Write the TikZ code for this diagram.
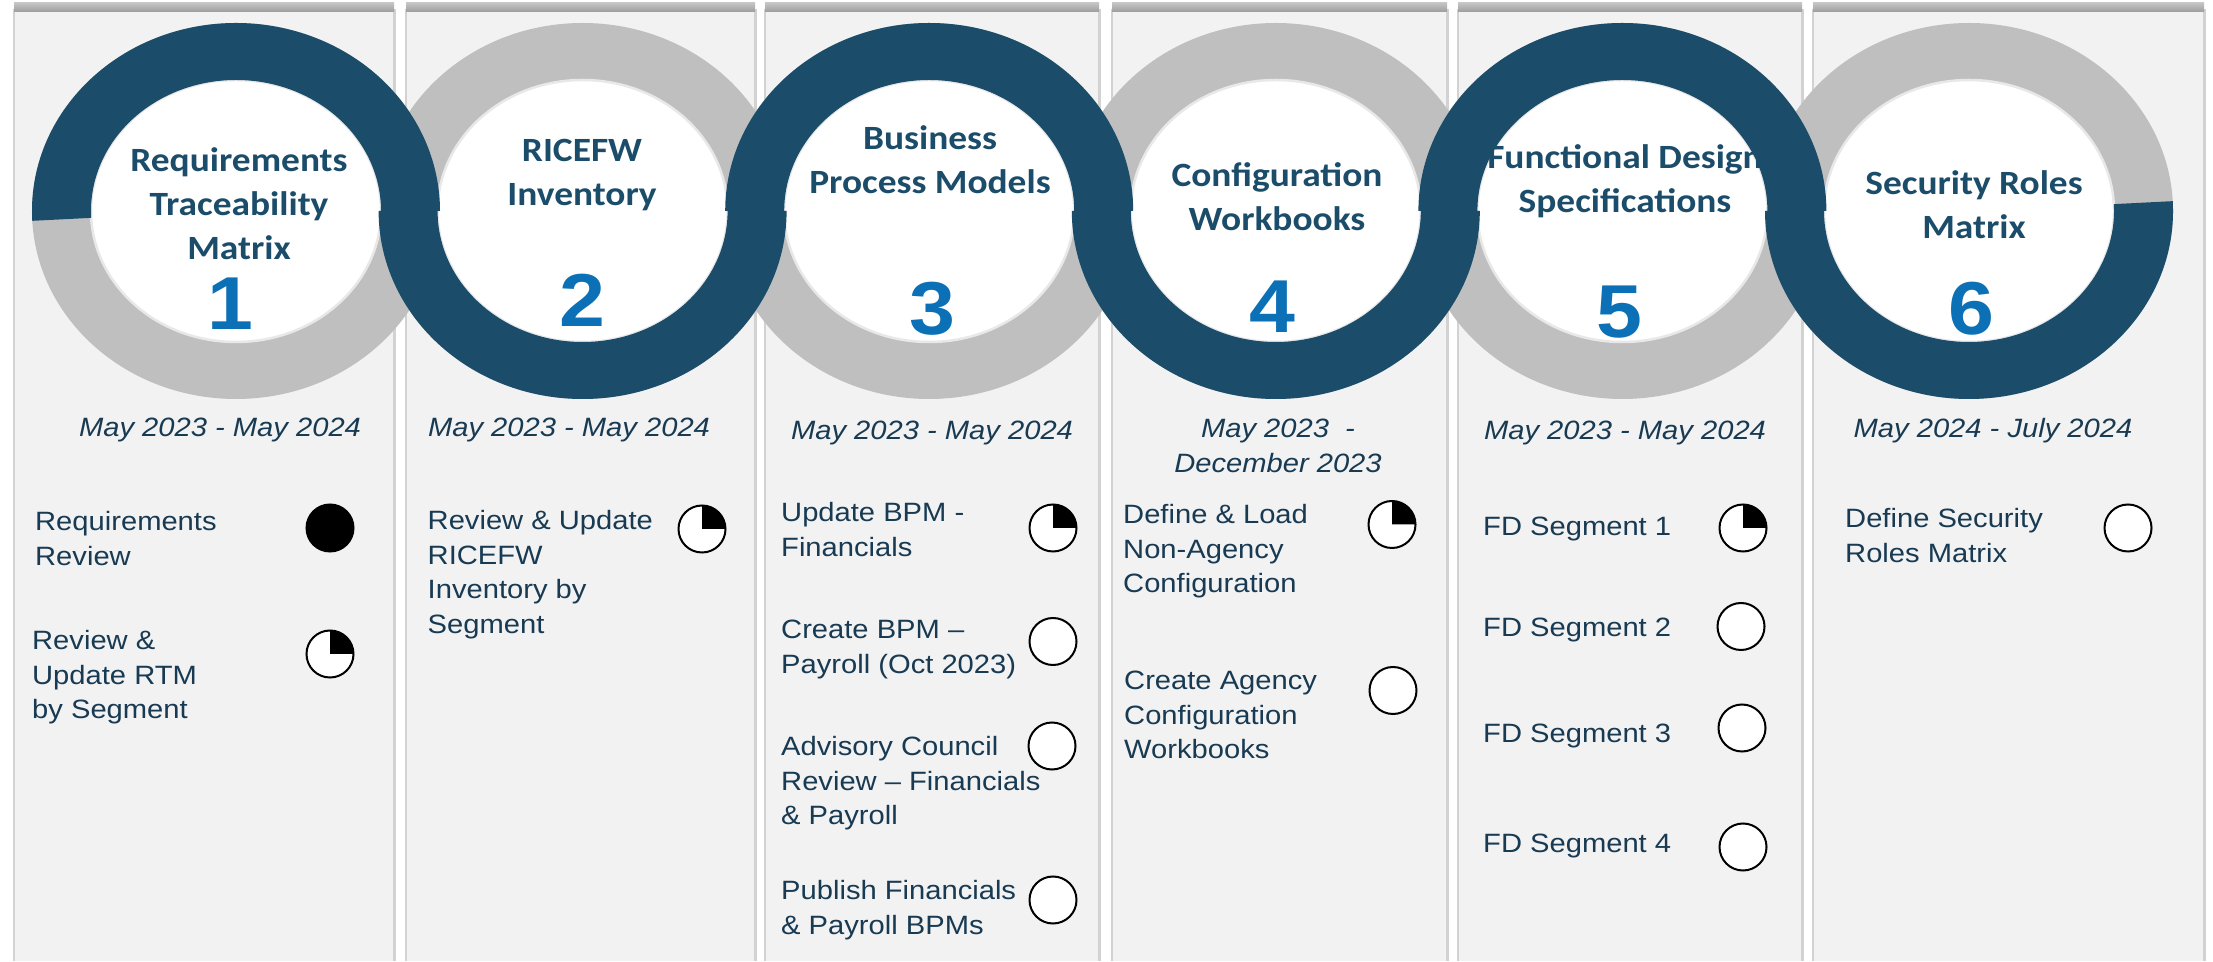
\documentclass[tikz,border=0pt]{standalone}
\usepackage{fontspec}
\setmainfont{Liberation Sans}[FakeStretch=1.1]
\newfontfamily\titlefont{Carlito}[FakeStretch=1.1]
\definecolor{ringblue}{HTML}{1B4D6B}
\definecolor{ringgray}{HTML}{BFBFBF}
\definecolor{numblue}{HTML}{0B70B5}
\definecolor{panelgray}{HTML}{F2F2F2}
\definecolor{edgegray}{HTML}{D2D2D2}
\definecolor{bandtop}{HTML}{C4C4C4}
\definecolor{bandbot}{HTML}{9C9C9C}
\definecolor{rimgray}{HTML}{E8E8E8}
\definecolor{txt}{HTML}{183A52}
\newcommand{\tstr}{\rule{0pt}{30pt}}
\newcommand{\istr}{\rule{0pt}{25pt}}
\begin{document}
\begin{tikzpicture}[x=1pt,y=1pt,
  title/.style={font=\titlefont\bfseries\fontsize{34}{44}\selectfont, text=ringblue, align=center, anchor=north, inner sep=0pt},
  num/.style={font=\bfseries\fontsize{75}{75}\selectfont, text=numblue, anchor=base, inner sep=0pt},
  date/.style={font=\itshape\fontsize{26.5}{34.5}\selectfont, text=txt, anchor=base, inner sep=0pt, align=center},
  item/.style={font=\fontsize{26.5}{34.5}\selectfont, text=txt, anchor=north west, inner sep=0pt, align=left},
  ball/.style={circle, draw=black, line width=2pt, fill=white, minimum size=47pt, inner sep=0pt},
  fullball/.style={ball, fill=black},
]
\useasboundingbox (0,0) rectangle (2213,961);
\fill[white] (0,0) rectangle (2213,961);

% panels
\foreach \a/\b in {15/393, 407/754, 766/1098, 1113/1446, 1459/1801, 1814/2203} {
  \fill[edgegray] (\a-2.5,0) rectangle (\b+2.5,952);
  \fill[panelgray] (\a,0) rectangle (\b,949);
  \shade[top color=bandtop, bottom color=bandbot] (\a-1,949) rectangle (\b+1,958);
}

% ring centres
\coordinate (c1) at (236,750);
\coordinate (c2) at (582.6,750);
\coordinate (c3) at (929.2,750);
\coordinate (c4) at (1275.8,750);
\coordinate (c5) at (1622.4,750);
\coordinate (c6) at (1969,750);

% gray rings
\foreach \c in {c1,c2,c3,c4,c5,c6}
  \fill[ringgray] (\c) ellipse [x radius=204, y radius=188];
% white centres
\foreach \c in {c1,c2,c3,c4,c5,c6}
  \fill[white, draw=rimgray, line width=2.5pt] (\c) ellipse [x radius=145, y radius=131];

% titles
\node[title] (t1) at (239,820) {\tstr Requirements\\Traceability\\Matrix};
\node[title] (t2) at (582,830) {\tstr RICEFW\\Inventory};
\node[title] (t3) at (930,842) {\tstr Business\\Process Models};
\node[title] (t4) at (1277,805) {\tstr Configuration\\Workbooks};
\node[title] (t5) at (1625,823) {\tstr Functional Design\\Specifications};
\node[title] (t6) at (1974,797) {\tstr Security Roles\\Matrix};

% dark snake
\fill[ringblue] (32.28,740.16)
  arc[start angle=183,end angle=0,x radius=204,y radius=188]
  -- (437.6,750) arc[start angle=180,end angle=360,x radius=145,y radius=131]
  -- (725.2,750) arc[start angle=180,end angle=0,x radius=204,y radius=188]
  -- (1130.8,750) arc[start angle=180,end angle=360,x radius=145,y radius=131]
  -- (1418.4,750) arc[start angle=180,end angle=0,x radius=204,y radius=188]
  -- (1824,750) arc[start angle=180,end angle=363,x radius=145,y radius=131]
  -- (2172.72,759.84) arc[start angle=363,end angle=180,x radius=204,y radius=188]
  -- (1767.4,750) arc[start angle=0,end angle=180,x radius=145,y radius=131]
  -- (1479.8,750) arc[start angle=360,end angle=180,x radius=204,y radius=188]
  -- (1074.2,750) arc[start angle=0,end angle=180,x radius=145,y radius=131]
  -- (786.6,750) arc[start angle=360,end angle=180,x radius=204,y radius=188]
  -- (381,750) arc[start angle=0,end angle=183,x radius=145,y radius=131]
  -- cycle;

% numbers
\node[num] (n1) at (230,631) {1};
\node[num] (n2) at (582,634) {2};
\node[num] (n3) at (932,626) {3};
\node[num] (n4) at (1272,628) {4};
\node[num] (n5) at (1619,623) {5};
\node[num] (n6) at (1971,626) {6};

% dates
\node[date] (d1) at (220,524.5) {May 2023 - May 2024};
\node[date] (d2) at (569,524.5) {May 2023 - May 2024};
\node[date] (d3) at (932,521.5) {May 2023 - May 2024};
\node[date, anchor=north] (d4) at (1278,548.5) {\istr May 2023\ \ -\\December 2023};
\node[date] (d5) at (1625,521.5) {May 2023 - May 2024};
\node[date] (d6) at (1993,523.5) {May 2024 - July 2024};

% items column 1
\node[item] (i11) at (35,455.5) {\istr Requirements\\Review};
\node[item] (i12) at (32,336.5) {\istr Review \&\\Update RTM\\by Segment};
% column 2
\node[item] (i21) at (427.5,456.5) {\istr Review \& Update\\RICEFW\\Inventory by\\Segment};
% column 3
\node[item] (i31) at (781,464.5) {\istr Update BPM -\\Financials};
\node[item] (i32) at (781,347.5) {\istr Create BPM –\\Payroll (Oct 2023)};
\node[item] (i33) at (781,230.5) {\istr Advisory Council\\Review – Financials\\\& Payroll};
\node[item] (i34) at (781,86.5) {\istr Publish Financials\\\& Payroll BPMs};
% column 4
\node[item] (i41) at (1123,462.5) {\istr Define \& Load\\Non-Agency\\Configuration};
\node[item] (i42) at (1124,296.5) {\istr Create Agency\\Configuration\\Workbooks};
% column 5
\node[item] (i51) at (1483,450.5) {\istr FD Segment 1};
\node[item] (i52) at (1483,349.5) {\istr FD Segment 2};
\node[item] (i53) at (1483,243.5) {\istr FD Segment 3};
\node[item] (i54) at (1483,133.5) {\istr FD Segment 4};
% column 6
\node[item] (i61) at (1845,458.5) {\istr Define Security\\Roles Matrix};

% harvey balls
\node[fullball] (b11) at (330,433) {};
\node[ball] (b12) at (330,307) {};
\node[ball] (b21) at (702,432) {};
\node[ball] (b31) at (1053,433) {};
\node[ball] (b32) at (1053,319.5) {};
\node[ball] (b33) at (1052,215) {};
\node[ball] (b34) at (1053,61) {};
\node[ball] (b41) at (1392,436.5) {};
\node[ball] (b42) at (1393,270.5) {};
\node[ball] (b51) at (1743,433) {};
\node[ball] (b52) at (1741,334.5) {};
\node[ball] (b53) at (1742,233) {};
\node[ball] (b54) at (1743,114) {};
\node[ball] (b61) at (2128,433) {};
\foreach \b in {b12,b21,b31,b41,b51}
  \fill[black] (\b.center) -- ++(0,23.5) arc[start angle=90,end angle=0,radius=23.5] -- cycle;
\end{tikzpicture}
\end{document}
